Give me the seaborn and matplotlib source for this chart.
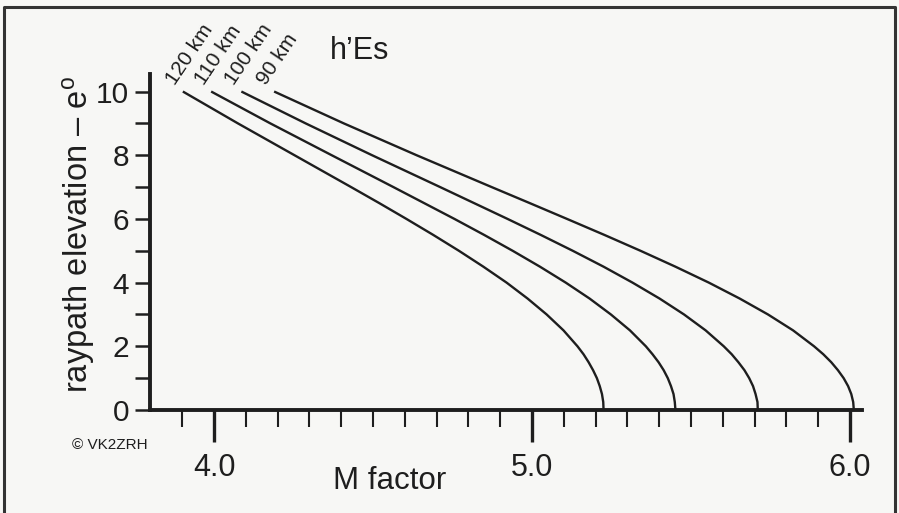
import numpy as np
import pandas as pd
import matplotlib
matplotlib.use("Agg")
import matplotlib.pyplot as plt
from matplotlib.lines import Line2D
import seaborn as sns

# ---- data ----
elevation = [0, 0.25, 0.5, 0.75, 1, 1.25, 1.5, 1.75, 2, 2.5, 3, 3.5, 4, 4.5, 5, 5.5, 6, 6.5, 7, 8, 9, 10]
m_90km = [6.012, 6.010, 6.004, 5.994, 5.980, 5.962, 5.941, 5.916, 5.887, 5.821, 5.742, 5.653,
          5.556, 5.451, 5.341, 5.227, 5.110, 4.992, 4.873, 4.637, 4.408, 4.189]
m_100km = [5.710, 5.709, 5.703, 5.695, 5.683, 5.668, 5.649, 5.628, 5.603, 5.546, 5.478, 5.401,
           5.316, 5.225, 5.128, 5.027, 4.923, 4.817, 4.711, 4.497, 4.288, 4.086]
m_110km = [5.451, 5.449, 5.445, 5.437, 5.427, 5.414, 5.398, 5.379, 5.358, 5.308, 5.248, 5.181,
           5.106, 5.025, 4.939, 4.849, 4.756, 4.660, 4.564, 4.370, 4.177, 3.991]
m_120km = [5.225, 5.224, 5.220, 5.213, 5.204, 5.192, 5.178, 5.162, 5.143, 5.099, 5.046, 4.986,
           4.920, 4.847, 4.770, 4.689, 4.605, 4.519, 4.431, 4.253, 4.075, 3.902]
heights = ["90 km", "100 km", "110 km", "120 km"]
x_major = [4.0, 5.0, 6.0]
x_major_labels = ["4.0", "5.0", "6.0"]
x_minor = [3.9, 4.1, 4.2, 4.3, 4.4, 4.5, 4.6, 4.7, 4.8, 4.9,
           5.1, 5.2, 5.3, 5.4, 5.5, 5.6, 5.7, 5.8, 5.9]
y_major = [0, 2, 4, 6, 8, 10]
y_minor = [1, 3, 5, 7, 9]

series = {"90 km": m_90km, "100 km": m_100km, "110 km": m_110km, "120 km": m_120km}
df = pd.concat([pd.DataFrame({"M": series[h], "e": elevation, "h": h}) for h in heights],
               ignore_index=True)

sns.set_theme(style="ticks")
plt.rcParams["font.family"] = ["Liberation Sans", "DejaVu Sans"]
plt.rcParams["mathtext.fontset"] = "custom"
plt.rcParams["mathtext.rm"] = "Liberation Sans"
plt.rcParams["mathtext.it"] = "Liberation Sans:italic"

INK = "#1e1e1e"
BG = "#f7f7f5"
W, H = 899, 513

fig = plt.figure(figsize=(W / 100, H / 100), dpi=100, facecolor=BG)
ax = fig.add_axes([150 / W, (H - 410) / H, (862 - 150) / W, (410 - 74) / H])
ax.set_facecolor(BG)

sns.lineplot(data=df, x="M", y="e", hue="h", hue_order=heights,
             palette=[INK] * 4, estimator=None, sort=False, legend=False,
             linewidth=1.7, ax=ax)
for ln in ax.get_lines():
    ln.set_solid_joinstyle("round")
    ln.set_solid_capstyle("butt")

ax.set_xlim(3.7987, 6.0377)
ax.set_ylim(0, 10.55)

for s in ["top", "right"]:
    ax.spines[s].set_visible(False)
for s in ["left", "bottom"]:
    ax.spines[s].set_linewidth(2.8)
    ax.spines[s].set_color(INK)
    ax.spines[s].set_capstyle("projecting")

ax.set_xticks(x_major)
ax.set_xticklabels(x_major_labels)
ax.set_xticks(x_minor, minor=True)
ax.set_yticks(y_major)
ax.set_yticks(y_minor, minor=True)

ax.tick_params(axis="x", which="major", direction="out", length=23, width=2.4,
               color=INK, labelsize=22, labelcolor=INK, pad=8)
ax.tick_params(axis="x", which="minor", direction="out", length=12, width=1.5, color=INK)
ax.tick_params(axis="y", which="both", direction="out", length=11, width=1.8,
               color=INK, labelsize=21.5, labelcolor=INK, pad=4)

ax.set_xlabel("M factor", fontsize=22.5, color=INK)
ax.xaxis.set_label_coords((390 - 150) / 712, (410 - 466) / 336)
ax.set_ylabel("raypath elevation – e$^{\\mathrm{o}}$", fontsize=23.5, color=INK)
ax.yaxis.set_label_coords((97 - 150) / 712, (410 - 235) / 336)

# curve labels placed at the top end of each curve
for h in heights:
    ax.annotate(h, xy=(series[h][-1], elevation[-1]), xytext=(-5.5, 4),
                textcoords="offset points", rotation=56, rotation_mode="anchor",
                ha="left", va="baseline", fontsize=15, color=INK,
                annotation_clip=False)

fig.text(330 / W, 1 - 59 / H, "h’Es", fontsize=22, color=INK, ha="left", va="baseline")
fig.text(72 / W, 1 - 445 / H, "© VK2ZRH", fontsize=11, color=INK, ha="left", va="center")

# frame around the figure (left, top, right)
fx = [4 / W, 4 / W, 895 / W, 895 / W]
fy = [0, 1 - 7 / H, 1 - 7 / H, 0]
fig.add_artist(Line2D(fx, fy, transform=fig.transFigure, color="#333333", linewidth=2.2))

fig.savefig("out.png", dpi=100, facecolor=BG)
